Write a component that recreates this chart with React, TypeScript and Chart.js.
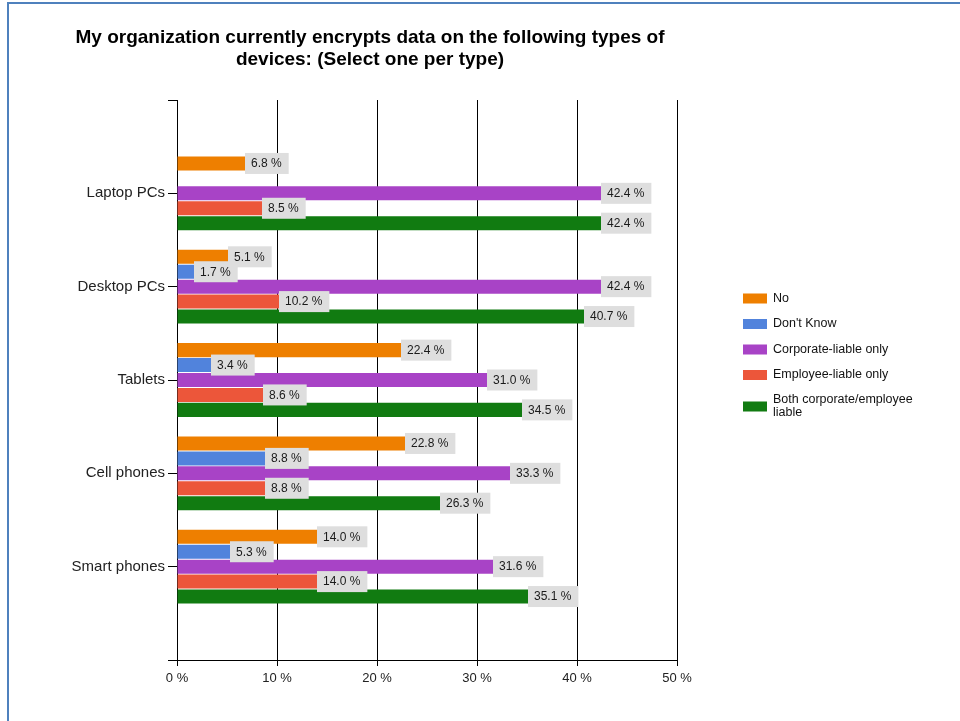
import React, { useEffect, useRef } from "react";
import { Chart, registerables } from "chart.js";

Chart.register(...registerables);

const TITLE_LINES = [
  "My organization currently encrypts data on the following types of",
  "devices: (Select one per type)",
];
const CATEGORIES = ["Laptop PCs", "Desktop PCs", "Tablets", "Cell phones", "Smart phones"];
const SERIES_NAMES = [
  "No",
  "Don't Know",
  "Corporate-liable only",
  "Employee-liable only",
  "Both corporate/employee liable",
];
const LEGEND_LINES = [["No"], ["Don't Know"], ["Corporate-liable only"], ["Employee-liable only"], ["Both corporate/employee", "liable"]];
const NO = [6.8, 5.1, 22.4, 22.8, 14.0];
const DONT_KNOW = [null, 1.7, 3.4, 8.8, 5.3];
const CORPORATE = [42.4, 42.4, 31.0, 33.3, 31.6];
const EMPLOYEE = [8.5, 10.2, 8.6, 8.8, 14.0];
const BOTH = [42.4, 40.7, 34.5, 26.3, 35.1];
const COLORS = ["#ee7f00", "#5183dc", "#a843c6", "#ec563a", "#117b11"];
const X_TICKS = [0, 10, 20, 30, 40, 50];

const FONT = "'Liberation Sans', Arial, sans-serif";

const titlePlugin = {
  id: "customTitle",
  afterDraw(chart: any) {
    const ctx = chart.ctx;
    ctx.save();
    ctx.font = `bold 19px ${FONT}`;
    ctx.fillStyle = "#000";
    ctx.textAlign = "center";
    ctx.textBaseline = "middle";
    const cx = 370;
    TITLE_LINES.forEach((t, i) => ctx.fillText(t, cx, 38 + i * 22));
    ctx.restore();
  },
};

const labelPlugin = {
  id: "valueLabels",
  afterDatasetsDraw(chart: any) {
    const ctx = chart.ctx;
    ctx.save();
    ctx.font = `12px ${FONT}`;
    ctx.textBaseline = "middle";
    ctx.textAlign = "left";
    chart.data.datasets.forEach((ds: any, i: number) => {
      const meta = chart.getDatasetMeta(i);
      meta.data.forEach((el: any, j: number) => {
        const v = ds.data[j];
        if (v === null || v === undefined) return;
        const text = `${v.toFixed(1)} %`;
        const tw = ctx.measureText(text).width;
        const w = tw + 13;
        const h = 21;
        ctx.fillStyle = "#dedede";
        ctx.fillRect(el.x, el.y - h / 2, w, h);
        ctx.fillStyle = "#1a1a1a";
        ctx.fillText(text, el.x + 6, el.y + 0.5);
      });
    });
    ctx.restore();
  },
};

const legendPlugin = {
  id: "customLegend",
  afterDraw(chart: any) {
    const ctx = chart.ctx;
    const x0 = chart.chartArea.right + 66;
    ctx.save();
    ctx.font = `12.5px ${FONT}`;
    ctx.textBaseline = "middle";
    ctx.textAlign = "left";
    LEGEND_LINES.forEach((lines, i) => {
      const yc = 298.5 + i * 25.5 + (lines.length > 1 ? 6 : 0);
      ctx.fillStyle = COLORS[i];
      ctx.fillRect(x0, yc - 5, 24, 10);
      ctx.fillStyle = "#111";
      const lh = 13;
      lines.forEach((ln, k) => {
        ctx.fillText(ln, x0 + 30, yc - ((lines.length - 1) * lh) / 2 + k * lh);
      });
    });
    ctx.restore();
  },
};

export default function App() {
  const ref = useRef<HTMLCanvasElement>(null);
  useEffect(() => {
    const seriesValues = [NO, DONT_KNOW, CORPORATE, EMPLOYEE, BOTH];
    const labels = ["", ...CATEGORIES, ""];
    const chart = new Chart(ref.current as HTMLCanvasElement, {
      type: "bar",
      data: {
        labels,
        datasets: seriesValues.map((vals, i) => ({
          label: SERIES_NAMES[i],
          data: [null, ...vals, null],
          backgroundColor: COLORS[i],
          borderWidth: 0,
          categoryPercentage: 0.8,
          barPercentage: 0.94,
        })),
      } as any,
      options: {
        indexAxis: "y",
        animation: false,
        responsive: false,
        maintainAspectRatio: false,
        devicePixelRatio: 1,
        layout: { padding: { top: 100, right: 283, left: 0, bottom: 0 } },
        plugins: {
          legend: { display: false },
          title: { display: false },
          tooltip: { enabled: false },
        },
        scales: {
          x: {
            type: "linear",
            min: X_TICKS[0],
            max: X_TICKS[X_TICKS.length - 1],
            afterBuildTicks: (scale: any) => {
              scale.ticks = X_TICKS.map((v) => ({ value: v }));
            },
            afterFit: (scale: any) => {
              scale.height = 61;
            },
            ticks: {
              callback: (v: any) => `${v} %`,
              font: { family: FONT, size: 13 },
              color: "#222",
              padding: 5,
              maxRotation: 0,
            },
            grid: { color: "#000", lineWidth: 1, tickLength: 6, drawOnChartArea: true },
            border: { color: "#000", width: 1 },
          },
          y: {
            type: "category",
            offset: false,
            afterFit: (scale: any) => {
              scale.width = 177;
            },
            ticks: {
              autoSkip: false,
              font: { family: FONT, size: 15 },
              color: "#222",
              padding: 3,
            },
            grid: { color: "#000", lineWidth: 1, tickLength: 9, drawOnChartArea: false, offset: false },
            border: { color: "#000", width: 1 },
          },
        },
      } as any,
      plugins: [titlePlugin, labelPlugin, legendPlugin],
    });
    return () => chart.destroy();
  }, []);

  return (
    <div style={{ position: "fixed", left: 0, top: 0, width: 960, height: 721, background: "#fff", overflow: "hidden" }}>
      <div
        style={{
          position: "absolute",
          left: 7,
          top: 2,
          width: 1000,
          height: 800,
          borderLeft: "2px solid #4f81bd",
          borderTop: "2px solid #4f81bd",
          boxSizing: "border-box",
        }}
      />
      <canvas ref={ref} width={960} height={721} style={{ position: "absolute", left: 0, top: 0, width: 960, height: 721 }} />
    </div>
  );
}
